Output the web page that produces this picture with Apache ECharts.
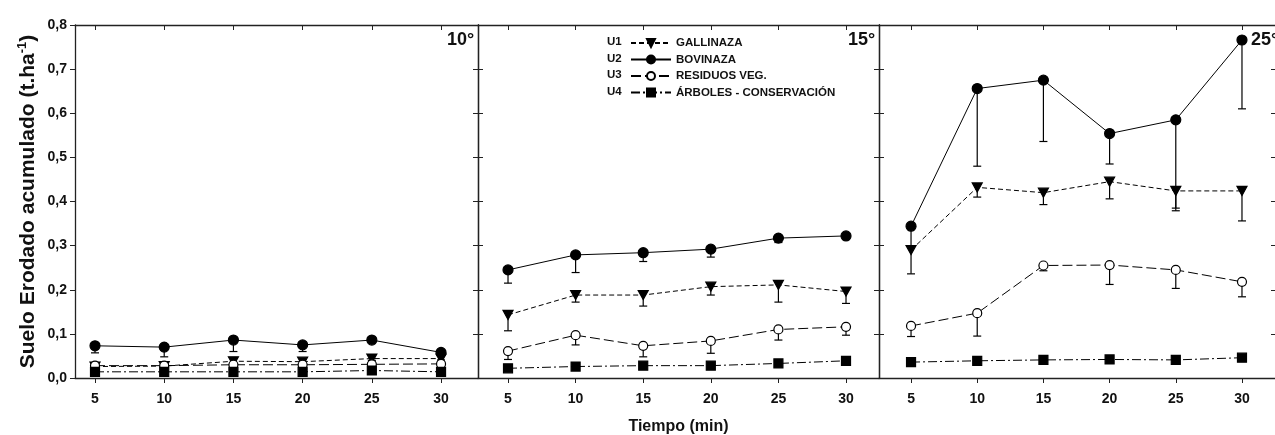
<!DOCTYPE html>
<html>
<head>
<meta charset="utf-8">
<script src="https://cdn.jsdelivr.net/npm/echarts@6/dist/echarts.min.js"></script>
<style>
html,body{margin:0;padding:0;background:#fff;}
#chart{width:1275px;height:435px;}
</style>
</head>
<body>
<div id="chart"></div>
<script>
// ---- data ----
const times = [5, 10, 15, 20, 25, 30];
const xTickValues = [5, 10, 15, 20, 25, 30];
const panelLabels = ['10°', '15°', '25°'];
const seriesNames = ['GALLINAZA', 'BOVINAZA', 'RESIDUOS VEG.', 'ÁRBOLES - CONSERVACIÓN'];
const seriesCodes = ['U1', 'U2', 'U3', 'U4'];

// 10°
const gal10 = [0.026, 0.027, 0.038, 0.037, 0.044, 0.044];
const gal10Low = [0.023, 0.024, 0.033, 0.033, 0.040, 0.041];
const bov10 = [0.073, 0.070, 0.086, 0.075, 0.086, 0.058];
const bov10Low = [0.057, 0.048, 0.060, 0.060, 0.083, 0.055];
const res10 = [0.028, 0.028, 0.030, 0.030, 0.031, 0.032];
const res10Low = [0.026, 0.026, 0.028, 0.028, 0.029, 0.030];
const arb10 = [0.014, 0.014, 0.014, 0.014, 0.017, 0.014];
const arb10Low = [0.013, 0.013, 0.013, 0.013, 0.016, 0.013];

// 15°
const gal15 = [0.143, 0.188, 0.188, 0.207, 0.211, 0.196];
const gal15Low = [0.107, 0.172, 0.163, 0.188, 0.172, 0.169];
const bov15 = [0.245, 0.279, 0.284, 0.292, 0.317, 0.322];
const bov15Low = [0.215, 0.239, 0.264, 0.274, 0.307, 0.314];
const res15 = [0.061, 0.097, 0.073, 0.084, 0.110, 0.116];
const res15Low = [0.042, 0.075, 0.048, 0.056, 0.086, 0.097];
const arb15 = [0.022, 0.026, 0.028, 0.028, 0.033, 0.039];
const arb15Low = [0.021, 0.025, 0.027, 0.027, 0.032, 0.038];

// 25°
const gal25 = [0.290, 0.432, 0.420, 0.445, 0.424, 0.424];
const gal25Low = [0.236, 0.410, 0.393, 0.406, 0.379, 0.356];
const bov25 = [0.344, 0.656, 0.675, 0.554, 0.585, 0.766];
const bov25Low = [0.300, 0.480, 0.536, 0.485, 0.385, 0.610];
const res25 = [0.118, 0.147, 0.255, 0.256, 0.245, 0.218];
const res25Low = [0.094, 0.095, 0.243, 0.212, 0.203, 0.184];
const arb25 = [0.036, 0.039, 0.041, 0.042, 0.041, 0.046];
const arb25Low = [0.035, 0.038, 0.040, 0.041, 0.040, 0.045];

const panelData = [
  [[gal10, gal10Low], [bov10, bov10Low], [res10, res10Low], [arb10, arb10Low]],
  [[gal15, gal15Low], [bov15, bov15Low], [res15, res15Low], [arb15, arb15Low]],
  [[gal25, gal25Low], [bov25, bov25Low], [res25, res25Low], [arb25, arb25Low]]
];

// ---- layout / style ----
const FONT = '"Liberation Sans", Arial, sans-serif';
const grids = [
  { left: 75, top: 25, width: 403, height: 353 },
  { left: 478, top: 25, width: 401, height: 353 },
  { left: 879, top: 25, width: 397, height: 353 }
];
const xRanges = [[3.555, 32.67], [2.78, 32.44], [2.58, 32.57]];
const styles = [
  { symbol: 'path://M0,0 L10,0 L5,9 Z', size: [10, 9], dash: [5, 3], fill: '#000' },
  { symbol: 'circle', size: 10, dash: 'solid', fill: '#000' },
  { symbol: 'circle', size: 9, dash: [10, 4], fill: '#fff' },
  { symbol: 'rect', size: 9, dash: [9, 3, 2, 3], fill: '#000' }
];
const axisColor = '#222';

const xAxes = [], yAxes = [], series = [];
grids.forEach((g, i) => {
  xAxes.push({
    type: 'value', gridIndex: i, position: 'bottom',
    min: xRanges[i][0], max: xRanges[i][1],
    axisLine: { onZero: false, lineStyle: { color: axisColor, width: 1.3 } },
    axisTick: { show: true, inside: false, length: 5, customValues: xTickValues, lineStyle: { color: axisColor } },
    axisLabel: { customValues: xTickValues, margin: 14, fontFamily: FONT, fontWeight: 'bold', fontSize: 14, color: '#111' },
    splitLine: { show: false },
    name: i === 1 ? 'Tiempo (min)' : '',
    nameLocation: 'middle', nameGap: 41,
    nameTextStyle: { fontFamily: FONT, fontWeight: 'bold', fontSize: 16, color: '#111' }
  });
  xAxes.push({
    type: 'value', gridIndex: i, position: 'top',
    min: xRanges[i][0], max: xRanges[i][1],
    axisLine: { onZero: false, lineStyle: { color: axisColor, width: 1.3 } },
    axisTick: { show: true, inside: true, length: 5, customValues: xTickValues, lineStyle: { color: axisColor } },
    axisLabel: { show: false },
    splitLine: { show: false }
  });
  yAxes.push({
    type: 'value', gridIndex: i, position: 'left',
    min: 0, max: 0.8, interval: 0.1,
    axisLine: { show: true, onZero: false, lineStyle: { color: axisColor, width: 1.3 } },
    axisTick: { show: true, inside: i !== 0, length: 5, lineStyle: { color: axisColor } },
    axisLabel: {
      show: i === 0, margin: 8, fontFamily: FONT, fontWeight: 'bold', fontSize: 14, color: '#111',
      formatter: v => v.toFixed(1).replace('.', ',')
    },
    splitLine: { show: false },
    name: i === 0 ? '{a|Suelo Erodado acumulado (t.ha}{b|-1}{a|)}' : '',
    nameLocation: 'middle', nameGap: 35,
    nameTextStyle: {
      rich: {
        a: { fontFamily: FONT, fontWeight: 'bold', fontSize: 21, color: '#111', lineHeight: 24 },
        b: { fontFamily: FONT, fontWeight: 'bold', fontSize: 13, color: '#111', lineHeight: 24, verticalAlign: 'top' }
      }
    }
  });
  yAxes.push({
    type: 'value', gridIndex: i, position: 'right',
    min: 0, max: 0.8, interval: 0.1,
    axisLine: { show: true, onZero: false, lineStyle: { color: axisColor, width: 1.3 } },
    axisTick: { show: true, inside: true, length: 5, lineStyle: { color: axisColor } },
    axisLabel: { show: false },
    splitLine: { show: false }
  });

  panelData[i].forEach((pair, k) => {
    const st = styles[k];
    const vals = pair[0], lows = pair[1];
    series.push({
      type: 'custom', name: 'err' + i + k,
      xAxisIndex: 2 * i, yAxisIndex: 2 * i, z: 1, silent: true,
      data: times.map((t, j) => [t, vals[j], lows[j]]),
      renderItem: function (params, api) {
        const p = api.coord([api.value(0), api.value(1)]);
        const q = api.coord([api.value(0), api.value(2)]);
        const style = { stroke: '#000', lineWidth: 1.2 };
        return {
          type: 'group',
          children: [
            { type: 'line', shape: { x1: p[0], y1: p[1], x2: q[0], y2: q[1] }, style },
            { type: 'line', shape: { x1: q[0] - 4, y1: q[1], x2: q[0] + 4, y2: q[1] }, style }
          ]
        };
      }
    });
    series.push({
      type: 'line', name: seriesNames[k],
      xAxisIndex: 2 * i, yAxisIndex: 2 * i, z: 3 + (k === 1 ? 1 : 0),
      data: times.map((t, j) => [t, vals[j]]),
      symbol: st.symbol, symbolSize: st.size, showSymbol: true,
      lineStyle: { color: '#000', width: 1, type: st.dash },
      itemStyle: { color: st.fill, borderColor: '#000', borderWidth: 1.2, opacity: 1 },
      emphasis: { disabled: true },
      animation: false
    });
  });
});

const graphics = [];
const labelPos = [[447, 31], [848, 31], [1251, 31]];
panelLabels.forEach((t, i) => {
  graphics.push({
    type: 'text', left: labelPos[i][0], top: labelPos[i][1],
    style: { text: t, font: 'bold 18px ' + FONT, fill: '#111' }
  });
});
seriesCodes.forEach((c, k) => {
  graphics.push({
    type: 'text', left: 607, top: 36 + k * 16.5,
    style: { text: c, font: 'bold 11.5px ' + FONT, fill: '#111' }
  });
});

const option = {
  backgroundColor: '#fff',
  animation: false,
  grid: grids.map(g => Object.assign({ containLabel: false, outerBoundsMode: 'none' }, g)),
  xAxis: xAxes,
  yAxis: yAxes,
  legend: {
    data: seriesNames,
    orient: 'vertical',
    left: 625, top: 32,
    itemWidth: 40, itemHeight: 10, itemGap: 4.5,
    selectedMode: false,
    textStyle: { fontFamily: FONT, fontWeight: 'bold', fontSize: 11.5, color: '#111', lineHeight: 12 }
  },
  graphic: graphics,
  series: series
};
const chart = echarts.init(document.getElementById('chart'), null, { renderer: 'canvas' });
chart.setOption(option);
</script>
</body>
</html>
